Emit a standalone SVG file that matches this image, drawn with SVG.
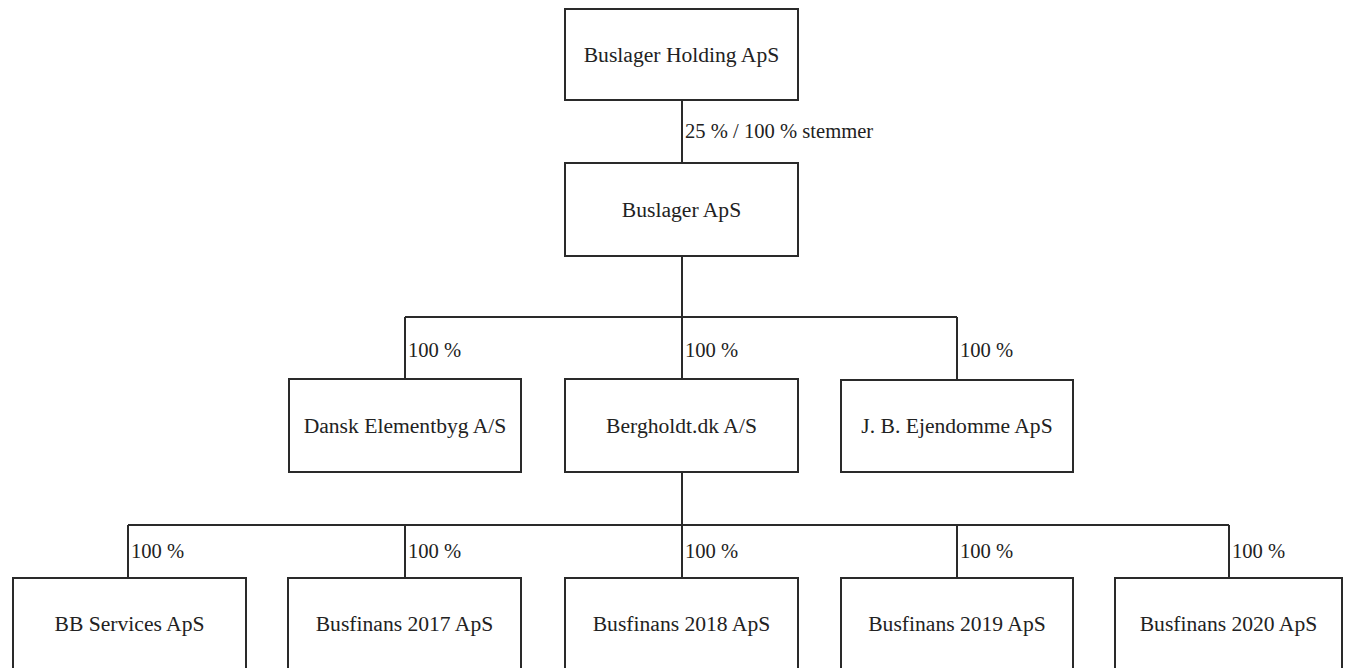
<svg xmlns="http://www.w3.org/2000/svg" width="1351" height="668" viewBox="0 0 1351 668">
<style>
.box{fill:#fff;stroke:#2a2a2a;stroke-width:2}
.ln{stroke:#2a2a2a;stroke-width:2;fill:none}
.nt{font-family:"Liberation Serif","Times New Roman",serif;font-size:21.6px;fill:#222;text-anchor:middle}
.lb{font-family:"Liberation Serif","Times New Roman",serif;font-size:20.6px;fill:#222}
</style>
<rect width="1351" height="668" fill="#fff"/>
<g id="connectors">
<path class="ln" d="M682 100V163"/>
<path class="ln" d="M682 256V317M405 317H957M405 317V379M682 317V379M957 317V380"/>
<path class="ln" d="M682 472V525M128 525H1229M128 525V578M405 525V578M682 525V578M957 525V578M1229 525V578"/>
<text class="lb" x="685" y="138">25 % / 100 % stemmer</text>
<text class="lb" x="408" y="357">100 %</text>
<text class="lb" x="685" y="357">100 %</text>
<text class="lb" x="960" y="357">100 %</text>
<text class="lb" x="131" y="558">100 %</text>
<text class="lb" x="408" y="558">100 %</text>
<text class="lb" x="685" y="558">100 %</text>
<text class="lb" x="960" y="558">100 %</text>
<text class="lb" x="1232" y="558">100 %</text>
</g>
<g id="holding"><rect class="box" x="565" y="9" width="233" height="91"/><text class="nt" x="681.5" y="62">Buslager Holding ApS</text></g>
<g id="buslager"><rect class="box" x="565" y="163" width="233" height="93"/><text class="nt" x="681.5" y="217">Buslager ApS</text></g>
<g id="dansk"><rect class="box" x="289" y="379" width="232" height="93"/><text class="nt" x="405" y="433">Dansk Elementbyg A/S</text></g>
<g id="bergholdt"><rect class="box" x="565" y="379" width="233" height="93"/><text class="nt" x="681.5" y="433">Bergholdt.dk A/S</text></g>
<g id="jb"><rect class="box" x="841" y="380" width="232" height="92"/><text class="nt" x="957" y="433">J. B. Ejendomme ApS</text></g>
<g id="bb"><rect class="box" x="13" y="578" width="233" height="93"/><text class="nt" x="129.5" y="631">BB Services ApS</text></g>
<g id="b2017"><rect class="box" x="288" y="578" width="233" height="93"/><text class="nt" x="404.5" y="631">Busfinans 2017 ApS</text></g>
<g id="b2018"><rect class="box" x="565" y="578" width="233" height="93"/><text class="nt" x="681.5" y="631">Busfinans 2018 ApS</text></g>
<g id="b2019"><rect class="box" x="841" y="578" width="232" height="93"/><text class="nt" x="957" y="631">Busfinans 2019 ApS</text></g>
<g id="b2020"><rect class="box" x="1115" y="578" width="227" height="93"/><text class="nt" x="1228.5" y="631">Busfinans 2020 ApS</text></g>
</svg>
